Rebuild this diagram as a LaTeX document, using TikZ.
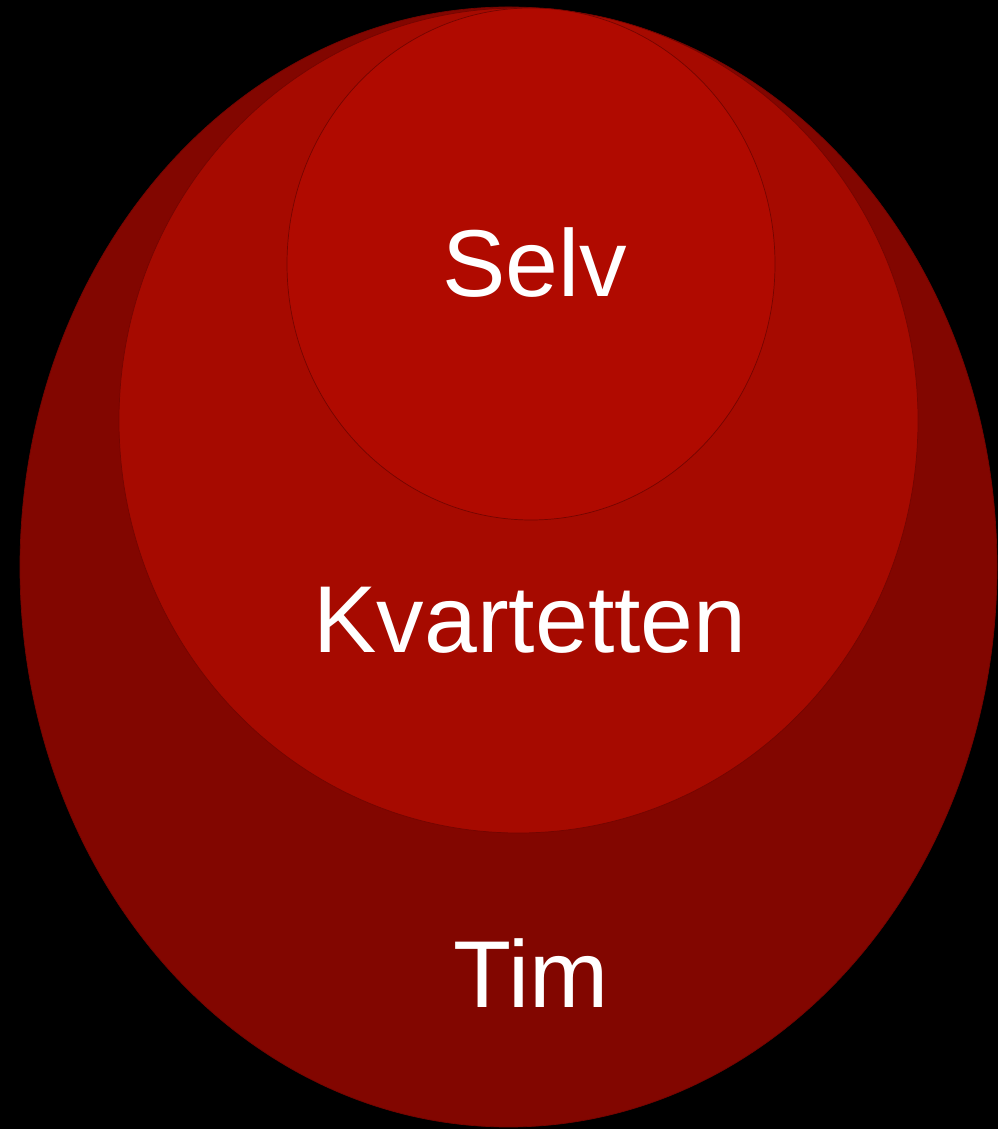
\documentclass[tikz,border=0pt]{standalone}
\usepackage{fontspec}
\setmainfont{Liberation Sans}
\definecolor{outerc}{HTML}{820600}
\definecolor{midc}{HTML}{A60A00}
\definecolor{innerc}{HTML}{B00A00}
\definecolor{rimc}{HTML}{740500}
\tikzset{
  ring/.style={draw=rimc, line width=0.7pt},
  lbl/.style={text=white, font=\fontsize{95}{108}\selectfont, anchor=base, inner sep=0pt}
}
\begin{document}
\begin{tikzpicture}[x=1pt,y=1pt]
\fill[black] (0,0) rectangle (998,1129);
\useasboundingbox (0,0) rectangle (998,1129);
\path[ring, fill=outerc] (508.5,562) ellipse [x radius=488.5, y radius=560];
\path[ring, fill=midc] (518.5,708.5) ellipse [x radius=399.5, y radius=412.5];
\path[ring, fill=innerc] (531,865) ellipse [x radius=244, y radius=256];
\node[lbl] (selv) at (535,832) {Selv};
\node[lbl] (kvartetten) at (530,476) {Kvartetten};
\node[lbl] (tim) at (531,121) {Tim};
\end{tikzpicture}
\end{document}
